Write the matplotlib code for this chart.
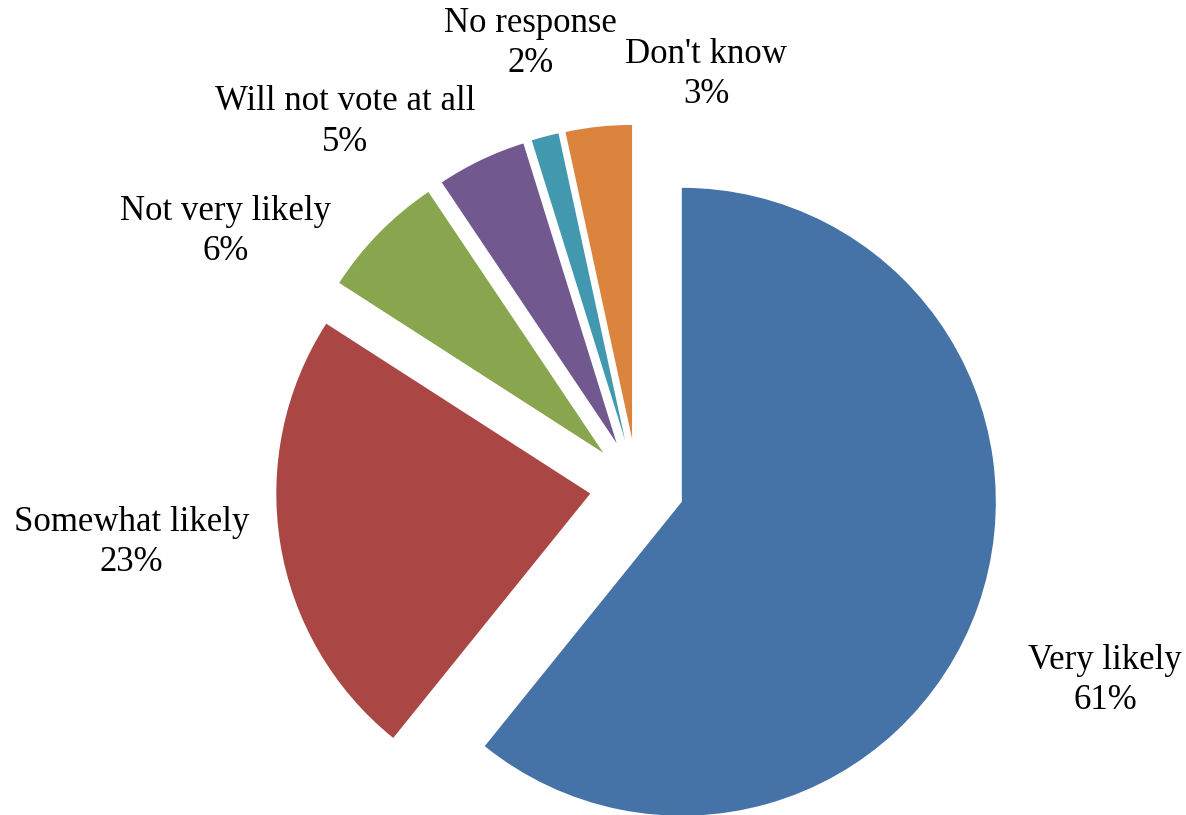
import matplotlib
matplotlib.use('Agg')
import matplotlib.pyplot as plt

# likelihood of voting, share of respondents
categories = ['Very likely', 'Somewhat likely', 'Not very likely',
              'Will not vote at all', 'No response', "Don't know"]
shares = [60.8, 23.3, 6.5, 4.6, 1.4, 3.4]
pct_labels = ['61%', '23%', '6%', '5%', '2%', '3%']
colors = ['#4572A7', '#AA4643', '#89A54E', '#71588F', '#4198AF', '#DB843D']

# label centres, in units of pie radius from the pie centre
label_pos = [(1.49, -0.62), (-1.61, -0.18), (-1.31, 0.81),
             (-0.93, 1.16), (-0.34, 1.41), (0.22, 1.31)]

fig = plt.figure(figsize=(11.86, 8.15), dpi=100)
ax = fig.add_axes([0, 0, 1, 1])

wedges, _ = ax.pie(shares, colors=colors, startangle=90, counterclock=False,
                   explode=[0.151] * len(shares), radius=1,
                   wedgeprops=dict(linewidth=0))

for name, pct, (x, y) in zip(categories, pct_labels, label_pos):
    ax.text(x, y, name + '\n' + pct, ha='center', va='center',
            fontsize=25, family='Liberation Serif', linespacing=1.3,
            color='black')

ax.set_xlim(-2.029, 1.748)
ax.set_ylim(-1.048, 1.548)
ax.set_aspect('auto')
ax.axis('off')

fig.savefig('out.png', dpi=100, facecolor='white')
